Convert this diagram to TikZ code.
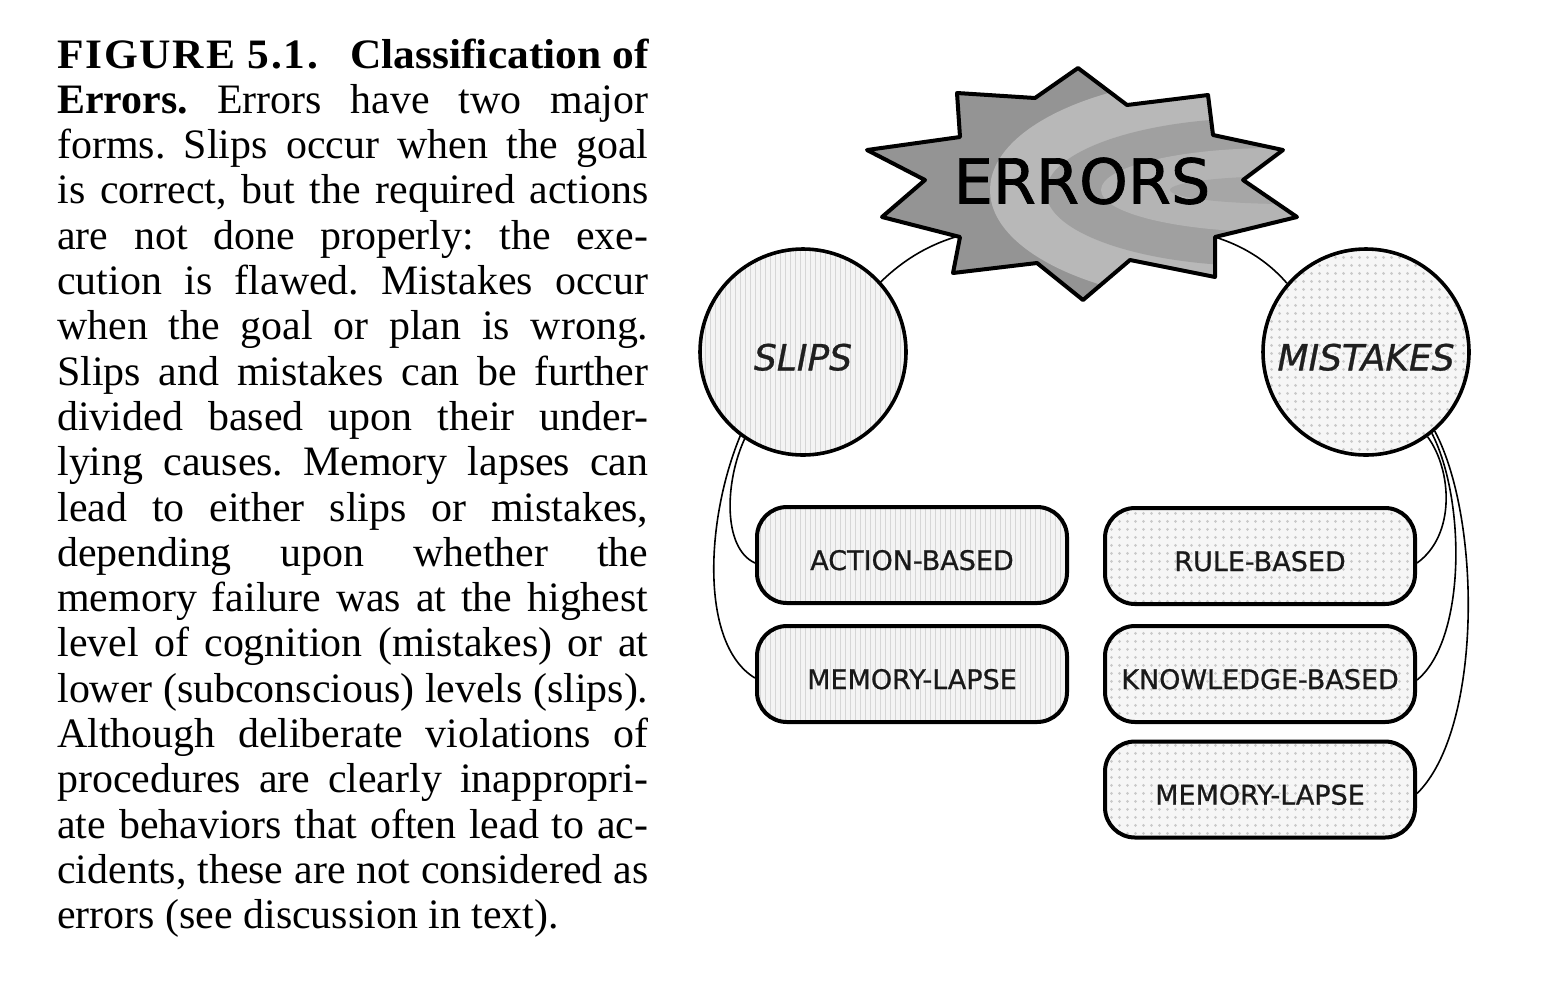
\documentclass[tikz,border=0pt]{standalone}
\usepackage{fontspec}
\usepackage{graphicx}
\setmainfont{Liberation Serif}
\newfontfamily\diagfont[FakeBold=0.8]{DejaVu Sans}
\newfontfamily\errfont[FakeBold=1.2]{DejaVu Sans}
\usetikzlibrary{patterns.meta}
\newlength\reflinew
\newlength\tmplinew
\newcommand\measureline[1]{\settowidth\tmplinew{\fontsize{10pt}{12pt}\selectfont\frenchspacing #1}\ifdim\tmplinew>\reflinew \global\reflinew=\tmplinew\fi}
\newcommand\errstar[1]{\path[#1] (1078,-68) -- (1127,-105) -- (1208,-95) -- (1213,-135) -- (1283,-150) -- (1243,-180) -- (1297,-217) -- (1215,-237) -- (1215,-277) -- (1130,-260) -- (1083,-300) -- (1037,-263) -- (953,-273) -- (960,-237) -- (882,-217) -- (925,-180) -- (867,-150) -- (960,-137) -- (957,-93) -- (1035,-98) -- cycle;}
\newcommand\lowlabel[1]{\raisebox{-2.5pt}[\height][0pt]{#1}}
\tikzset{
  capline/.style={anchor=base west, inner sep=0pt, font=\capfont},
  slipfill/.style={preaction={fill=gray!9}, pattern={Lines[angle=90,distance=2.5pt,line width=0.5pt]}, pattern color=gray!32},
  mistfill/.style={preaction={fill=gray!7}, pattern={Dots[radius=0.85pt,distance=4pt]}, pattern color=gray!42},
  subbox/.style={draw, line width=2pt, rounded corners=15pt, minimum width=155pt, minimum height=48pt, inner sep=0pt, font=\diagfont\fontsize{13.5pt}{15pt}\selectfont, text=black!90},
  bigcirc/.style={circle, draw, line width=1.8pt, minimum size=103pt, inner sep=0pt, font=\diagfont\itshape\fontsize{18pt}{20pt}\selectfont, text=black!88},
  conn/.style={draw, line width=0.8pt},
}
\begin{document}%
\setlength\reflinew{0pt}%
\measureline{is correct, but the required actions}%
\measureline{cidents, these are not considered as}%
\measureline{lower (subconscious) levels (slips).}%
\measureline{ate behaviors that often lead to ac-}%
\measureline{memory failure was at the highest}%
\pgfmathsetmacro\capsz{10*295.5/\reflinew}%
\def\capfont{\fontsize{\capsz pt}{\capsz pt}\selectfont\frenchspacing}%
\begin{tikzpicture}[x=0.5pt,y=0.5pt]
\fill[white] (0,0) rectangle (1556,-992);
\useasboundingbox (0,0) rectangle (1556,-992);

% caption
\def\cw{295.5pt}
\node[capline] (c1) at (57,-68.0) {\resizebox{\cw}{\height}{{\bfseries\addfontfeatures{LetterSpace=4}FIGURE 5.1.}\hspace{0.75em}{\bfseries Classification of}}};
\node[capline] (c2) at (57,-113.3) {\makebox[\cw][s]{{\bfseries Errors.} Errors have two major}};
\node[capline] (c3) at (57,-158.6) {\makebox[\cw][s]{forms. Slips occur when the goal}};
\node[capline] (c4) at (57,-203.9) {\makebox[\cw][s]{is correct, but the required actions}};
\node[capline] (c5) at (57,-249.2) {\makebox[\cw][s]{are not done properly: the exe-}};
\node[capline] (c6) at (57,-294.5) {\makebox[\cw][s]{cution is flawed. Mistakes occur}};
\node[capline] (c7) at (57,-339.8) {\makebox[\cw][s]{when the goal or plan is wrong.}};
\node[capline] (c8) at (57,-385.1) {\makebox[\cw][s]{Slips and mistakes can be further}};
\node[capline] (c9) at (57,-430.4) {\makebox[\cw][s]{divided based upon their under-}};
\node[capline] (c10) at (57,-475.7) {\makebox[\cw][s]{lying causes. Memory lapses can}};
\node[capline] (c11) at (57,-521.0) {\makebox[\cw][s]{lead to either slips or mistakes,}};
\node[capline] (c12) at (57,-566.3) {\makebox[\cw][s]{depending upon whether the}};
\node[capline] (c13) at (57,-611.6) {\makebox[\cw][s]{memory failure was at the highest}};
\node[capline] (c14) at (57,-656.9) {\makebox[\cw][s]{level of cognition (mistakes) or at}};
\node[capline] (c15) at (57,-702.2) {\makebox[\cw][s]{lower (subconscious) levels (slips).}};
\node[capline] (c16) at (57,-747.5) {\makebox[\cw][s]{Although deliberate violations of}};
\node[capline] (c17) at (57,-792.8) {\makebox[\cw][s]{procedures are clearly inappropri-}};
\node[capline] (c18) at (57,-838.1) {\makebox[\cw][s]{ate behaviors that often lead to ac-}};
\node[capline] (c19) at (57,-883.4) {\makebox[\cw][s]{cidents, these are not considered as}};
\node[capline] (c20) at (57,-928.7) {errors (see discussion in text).};

% circles
\node[bigcirc, slipfill] (slips) at (803,-352) {\lowlabel{SLIPS}};
\node[bigcirc, mistfill] (mistakes) at (1366,-352) {\lowlabel{MISTAKES}};

% boxes
\node[subbox, slipfill] (ab) at (912,-555) {\lowlabel{ACTION-BASED}};
\node[subbox, slipfill] (ml) at (912,-674) {\lowlabel{MEMORY-LAPSE}};
\node[subbox, mistfill] (rb) at (1260,-556) {\lowlabel{RULE-BASED}};
\node[subbox, mistfill] (kb) at (1260,-674) {\lowlabel{KNOWLEDGE-BASED}};
\node[subbox, mistfill] (mr) at (1260,-789.5) {\lowlabel{MEMORY-LAPSE}};

% connectors circles -> boxes
\draw[conn] (slips.-124) .. controls (725,-480) and (722,-548) .. ([yshift=-4pt]ab.west);
\draw[conn] (slips.-127) .. controls (705,-520) and (700,-645) .. ([yshift=-2pt]ml.west);
\draw[conn] (mistakes.-54) .. controls (1452,-470) and (1456,-535) .. ([yshift=-3.5pt]rb.east);
\draw[conn] (mistakes.-51.5) .. controls (1466,-500) and (1466,-640) .. ([yshift=-3pt]kb.east);
\draw[conn] (mistakes.-49) .. controls (1482,-520) and (1482,-730) .. ([yshift=-2pt]mr.east);

% connectors circles -> star
\coordinate (eL) at (975,-232);
\coordinate (eR) at (1195,-232);
\draw[conn] (slips.42) .. controls (905,-258) and (935,-240) .. (eL);
\draw[conn] (mistakes.139) .. controls (1265,-258) and (1235,-240) .. (eR);

% star
\errstar{fill={rgb,255:red,148;green,148;blue,148}}
\begin{scope}
  \errstar{clip}
  \fill[color={rgb,255:red,184;green,184;blue,184}] (1240,-190) ellipse [x radius=125pt, y radius=57pt];
  \fill[color={rgb,255:red,160;green,160;blue,160}] (1260,-192) ellipse [x radius=107pt, y radius=37pt];
  \fill[color={rgb,255:red,180;green,180;blue,180}] (1275,-190) ellipse [x radius=87pt, y radius=21pt];
  \fill[color={rgb,255:red,166;green,166;blue,166}] (1290,-190) ellipse [x radius=60pt, y radius=7pt];
\end{scope}
\errstar{draw, line width=2pt, line join=round}
\node[inner sep=0pt, font=\errfont\fontsize{31pt}{34pt}\selectfont] (errors) at (1082,-181) {ERRORS};
\end{tikzpicture}
\end{document}
